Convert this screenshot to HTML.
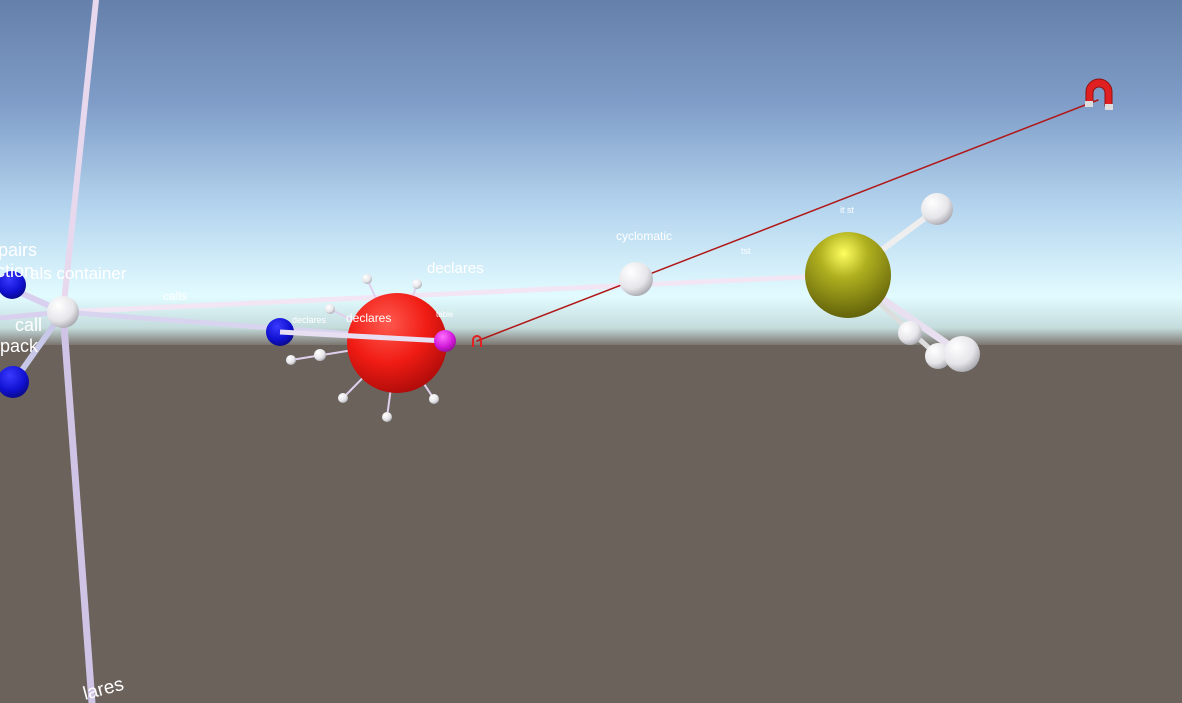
<!DOCTYPE html>
<html><head><meta charset="utf-8"><style>
html,body{margin:0;padding:0;width:1182px;height:703px;overflow:hidden;background:#6b625c}
svg{display:block}
text{font-family:"Liberation Sans",sans-serif;fill:#fff}
</style></head><body>
<svg width="1182" height="703" viewBox="0 0 1182 703">
<defs>
<linearGradient id="sky" x1="0" y1="0" x2="0" y2="1">
<stop offset="0" stop-color="#6580aa"/><stop offset="0.3" stop-color="#7f9dc8"/>
<stop offset="0.6" stop-color="#b4d4ee"/><stop offset="0.86" stop-color="#e2fbff"/>
<stop offset="0.95" stop-color="#c4dcdc"/><stop offset="1" stop-color="#7c7670"/></linearGradient>
<radialGradient id="gw" cx="0.35" cy="0.3" r="0.8"><stop offset="0" stop-color="#fff"/><stop offset="0.6" stop-color="#e6e6ea"/><stop offset="1" stop-color="#9a9aa2"/></radialGradient>
<radialGradient id="gr" cx="0.4" cy="0.3" r="0.8"><stop offset="0" stop-color="#ff5a50"/><stop offset="0.5" stop-color="#f01c14"/><stop offset="1" stop-color="#a00808"/></radialGradient>
<radialGradient id="gb" cx="0.4" cy="0.3" r="0.8"><stop offset="0" stop-color="#3a3aff"/><stop offset="0.6" stop-color="#1010d0"/><stop offset="1" stop-color="#080870"/></radialGradient>
<radialGradient id="gy" cx="0.45" cy="0.25" r="0.8"><stop offset="0" stop-color="#ffff60"/><stop offset="0.35" stop-color="#b0b020"/><stop offset="1" stop-color="#5a5a08"/></radialGradient>
<radialGradient id="gm" cx="0.4" cy="0.3" r="0.8"><stop offset="0" stop-color="#ff70ff"/><stop offset="0.6" stop-color="#d018d8"/><stop offset="1" stop-color="#801080"/></radialGradient>
</defs>
<rect width="1182" height="345" fill="url(#sky)"/>
<rect y="345" width="1182" height="358" fill="#6b625c"/>
<g stroke-linecap="round">
<line x1="96" y1="0" x2="63" y2="312" stroke="#e8d8ee" stroke-width="6"/>
<line x1="63" y1="312" x2="92" y2="703" stroke="#d0c4e6" stroke-width="7"/>
<line x1="63" y1="312" x2="0" y2="318" stroke="#d8d0ee" stroke-width="5"/>
<line x1="63" y1="312" x2="10" y2="288" stroke="#d8d0ee" stroke-width="6"/>
<line x1="63" y1="312" x2="15" y2="380" stroke="#c8c8e8" stroke-width="6"/>
<line x1="63" y1="312" x2="848" y2="275" stroke="#f2e6f4" stroke-width="5"/>
<line x1="63" y1="312" x2="445" y2="341" stroke="#d8d4f0" stroke-width="5"/>
<line x1="848" y1="275" x2="937" y2="209" stroke="#eee" stroke-width="6"/>
<line x1="848" y1="275" x2="962" y2="354" stroke="#e8e0f0" stroke-width="7"/>
<line x1="848" y1="275" x2="938" y2="356" stroke="#ddd" stroke-width="5"/>
<line x1="397" y1="343" x2="367" y2="279" stroke="#e0d0ee" stroke-width="2"/>
<line x1="397" y1="343" x2="417" y2="284" stroke="#e0d0ee" stroke-width="2"/>
<line x1="397" y1="343" x2="330" y2="309" stroke="#e0d0ee" stroke-width="2"/>
<line x1="397" y1="343" x2="291" y2="360" stroke="#e0d0ee" stroke-width="2"/>
<line x1="397" y1="343" x2="343" y2="398" stroke="#e0d0ee" stroke-width="2"/>
<line x1="397" y1="343" x2="387" y2="417" stroke="#e0d0ee" stroke-width="2"/>
<line x1="397" y1="343" x2="434" y2="399" stroke="#e0d0ee" stroke-width="2"/>
<line x1="477" y1="341" x2="1098" y2="100" stroke="#b01818" stroke-width="1.5"/>
</g>
<circle cx="63" cy="312" r="16" fill="url(#gw)"/>
<circle cx="12" cy="285" r="14" fill="url(#gb)"/>
<circle cx="13" cy="382" r="16" fill="url(#gb)"/>
<circle cx="397" cy="343" r="50" fill="url(#gr)"/>
<circle cx="280" cy="332" r="14" fill="url(#gb)"/>
<line x1="280" y1="332" x2="445" y2="341" stroke="#e8e0f2" stroke-width="5"/>
<circle cx="445" cy="341" r="11" fill="url(#gm)"/>
<g fill="url(#gw)">
<circle cx="367" cy="279" r="5"/><circle cx="417" cy="284" r="5"/><circle cx="330" cy="309" r="5"/>
<circle cx="320" cy="355" r="6"/><circle cx="291" cy="360" r="5"/><circle cx="343" cy="398" r="5"/>
<circle cx="387" cy="417" r="5"/><circle cx="434" cy="399" r="5"/>
</g>
<circle cx="636" cy="279" r="17" fill="url(#gw)"/>
<circle cx="848" cy="275" r="43" fill="url(#gy)"/>
<circle cx="937" cy="209" r="16" fill="url(#gw)"/>
<circle cx="910" cy="333" r="12" fill="url(#gw)"/>
<circle cx="938" cy="356" r="13" fill="url(#gw)"/>
<circle cx="962" cy="354" r="18" fill="url(#gw)"/>
<g>
<path d="M1086 102 L1086 92 A13 13 0 0 1 1112 92 L1112 106 L1105 106 L1105 93 A6 6 0 0 0 1093 93 L1093 102 Z" fill="#e02020" stroke="#901010" stroke-width="1"/>
<rect x="1105" y="104" width="8" height="6" fill="#ddd"/><rect x="1085" y="101" width="8" height="6" fill="#ddd"/>
<path d="M473 347 L473 340 A4 4 0 0 1 481 340 L481 347" fill="none" stroke="#e02020" stroke-width="2"/>
</g>
<g>
<text x="-2" y="256" font-size="18">pairs</text>
<text x="-4" y="277" font-size="18">ction</text>
<text x="30" y="279" font-size="17">als container</text>
<text x="15" y="331" font-size="18">call</text>
<text x="0" y="352" font-size="18">pack</text>
<text x="163" y="300" font-size="12">calls</text>
<text x="292" y="323" font-size="9">declares</text>
<text x="346" y="322" font-size="12">declares</text>
<text x="427" y="273" font-size="15">declares</text>
<text x="436" y="317" font-size="8">table</text>
<text x="616" y="240" font-size="12">cyclomatic</text>
<text x="741" y="254" font-size="9">tst</text>
<text x="840" y="213" font-size="9">it st</text>
<text x="85" y="700" font-size="19" transform="rotate(-15 85 700)">lares</text>
</g>
</svg>
</body></html>
